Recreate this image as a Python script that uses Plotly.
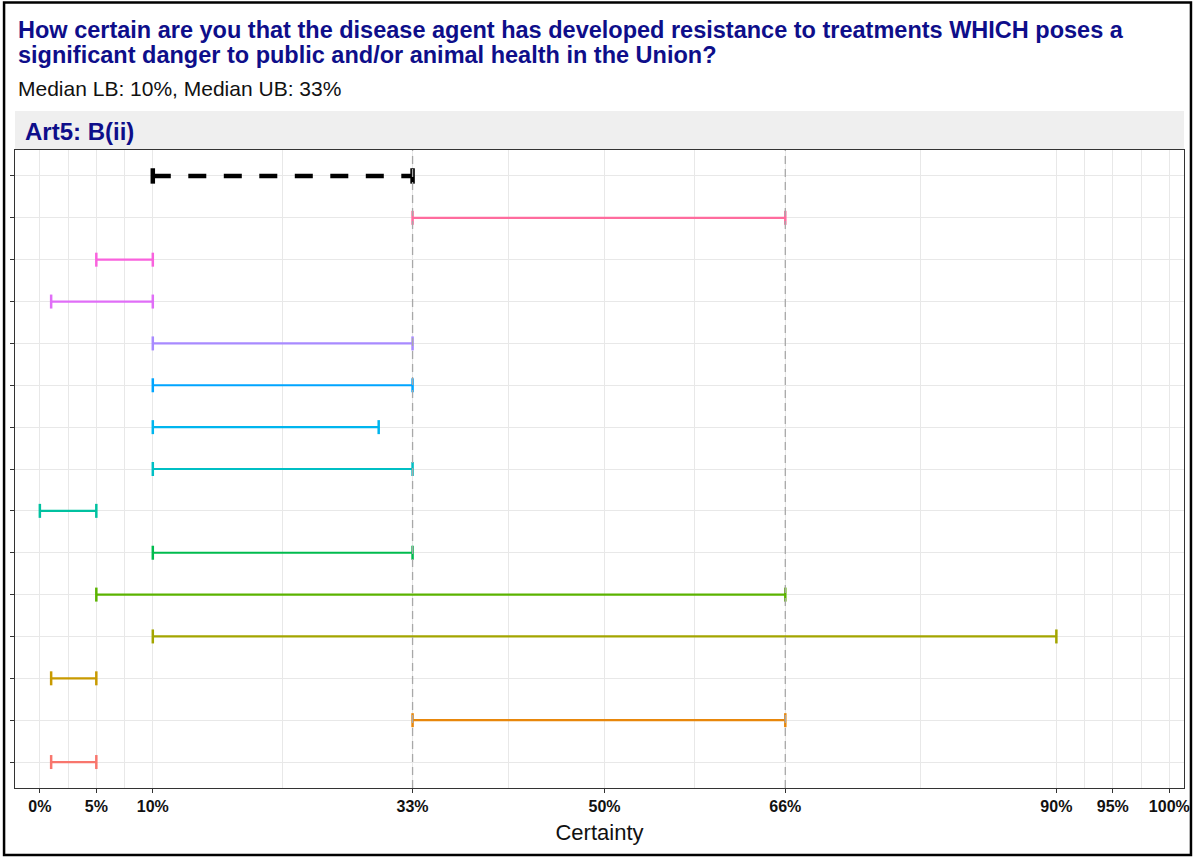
import plotly.graph_objects as go

# ---- data ----
rows = ["Median", "E14", "E13", "E12", "E11", "E10", "E9", "E8", "E7", "E6", "E5", "E4", "E3", "E2", "E1"]
median_lb = 10
median_ub = 33
expert_names = ["E14", "E13", "E12", "E11", "E10", "E9", "E8", "E7", "E6", "E5", "E4", "E3", "E2", "E1"]
expert_lb = [33, 5, 1, 10, 10, 10, 10, 0, 10, 5, 10, 1, 33, 1]
expert_ub = [66, 10, 10, 33, 33, 30, 33, 5, 33, 66, 90, 5, 66, 5]
expert_colors = ["#FF6C9E", "#F962DD", "#E06EF7", "#A88AFF", "#00A5FF", "#00B5EE",
                 "#00BFC4", "#00C1A0", "#00BB4E", "#5BB300", "#A3A500", "#C89A00",
                 "#E8870B", "#F8766D"]
tick_vals = [0, 5, 10, 33, 50, 66, 90, 95, 100]
tick_text = ["0%", "5%", "10%", "33%", "50%", "66%", "90%", "95%", "100%"]
minor_vals = [2.5, 7.5, 21.5, 41.5, 58, 78, 92.5, 97.5]
ref_lines = [33, 66]

title_l1 = "How certain are you that the disease agent has developed resistance to treatments WHICH poses a"
title_l2 = "significant danger to public and/or animal health in the Union?"
subtitle = "Median LB: 10%, Median UB: 33%"
strip_text = "Art5: B(ii)"
x_title = "Certainty"

# ---- layout constants ----
W, H = 1199, 857
ML, MR, MT, MB = 15, 9, 150, 69
NAVY = "#0E0E8A"
FONT = "Liberation Sans, Arial, sans-serif"

fig = go.Figure()

for name, lb, ub, col in zip(expert_names, expert_lb, expert_ub, expert_colors):
    fig.add_trace(go.Scatter(
        x=[lb, ub], y=[name, name], mode="lines+markers",
        line=dict(color=col, width=2.2),
        marker=dict(symbol="line-ns-open", size=10, line=dict(color=col, width=2.5)),
        showlegend=False, hoverinfo="x+y"))

fig.add_trace(go.Scatter(
    x=[median_lb, median_ub], y=["Median", "Median"], mode="lines+markers",
    line=dict(color="black", width=4.5, dash="18px,17.5px"),
    marker=dict(symbol="line-ns-open", size=11, line=dict(color="black", width=4.5)),
    showlegend=False, hoverinfo="x+y"))

pw = W - ML - MR
ph = H - MT - MB

def px_x(p):
    return (p - ML) / pw

def px_y(p):
    return (H - MB - p) / ph

shapes = []
for v in ref_lines:
    shapes.append(dict(type="line", xref="x", yref="y domain", x0=v, x1=v, y0=0, y1=1,
                       line=dict(color="#A8A8A8", width=1.3, dash="8px,5px"), layer="above"))
# strip background
shapes.append(dict(type="rect", xref="paper", yref="paper", x0=0, x1=1,
                   y0=px_y(149), y1=px_y(111), fillcolor="#EFEFEF", line=dict(width=0), layer="below"))
# outer frame
shapes.append(dict(type="rect", xref="paper", yref="paper", x0=px_x(4), x1=px_x(1197),
                   y0=px_y(855), y1=px_y(2.5), line=dict(color="black", width=2.5)))

annotations = [
    dict(text="<b>" + title_l1 + "</b>", xref="paper", yref="paper", x=px_x(16), y=px_y(30),
         xanchor="left", yanchor="middle", showarrow=False, font=dict(size=23.5, color=NAVY, family=FONT)),
    dict(text="<b>" + title_l2 + "</b>", xref="paper", yref="paper", x=px_x(16), y=px_y(55),
         xanchor="left", yanchor="middle", showarrow=False, font=dict(size=23.5, color=NAVY, family=FONT)),
    dict(text=subtitle, xref="paper", yref="paper", x=px_x(16), y=px_y(88),
         xanchor="left", yanchor="middle", showarrow=False, font=dict(size=21, color="#111111", family=FONT)),
    dict(text="<b>" + strip_text + "</b>", xref="paper", yref="paper", x=px_x(23), y=px_y(131),
         xanchor="left", yanchor="middle", showarrow=False, font=dict(size=24, color=NAVY, family=FONT)),
]

fig.update_layout(
    width=W, height=H,
    margin=dict(l=ML, r=MR, t=MT, b=MB, pad=0),
    paper_bgcolor="white", plot_bgcolor="white",
    font=dict(family=FONT, color="black"),
    shapes=shapes, annotations=annotations,
    showlegend=False,
)

fig.update_xaxes(
    range=[-2.2, 101.3], tickvals=tick_vals, ticktext=["<b>" + t + "</b>" for t in tick_text],
    tickfont=dict(size=16, color="#111111", family=FONT),
    ticks="outside", ticklen=4, tickcolor="#333333", tickwidth=1,
    showgrid=True, gridcolor="#E8E8E8", gridwidth=1.3,
    minor=dict(tickvals=minor_vals, showgrid=True, gridcolor="#E8E8E8", gridwidth=1.3, ticks=""),
    showline=True, linecolor="#333333", linewidth=1.3, mirror=True,
    zeroline=False,
    title=dict(text=x_title, font=dict(size=22, color="#111111", family=FONT), standoff=10),
)
fig.update_yaxes(
    type="category", categoryorder="array", categoryarray=rows,
    range=[len(rows) - 1 + 0.62, -0.62],
    showticklabels=False, ticks="outside", ticklen=4, tickcolor="#333333",
    showgrid=True, gridcolor="#E8E8E8", gridwidth=1.3,
    showline=True, linecolor="#333333", linewidth=1.3, mirror=True,
    zeroline=False,
)

fig.write_html("out.html", config={"displayModeBar": False},
               post_script="document.body.style.margin='0px';")
